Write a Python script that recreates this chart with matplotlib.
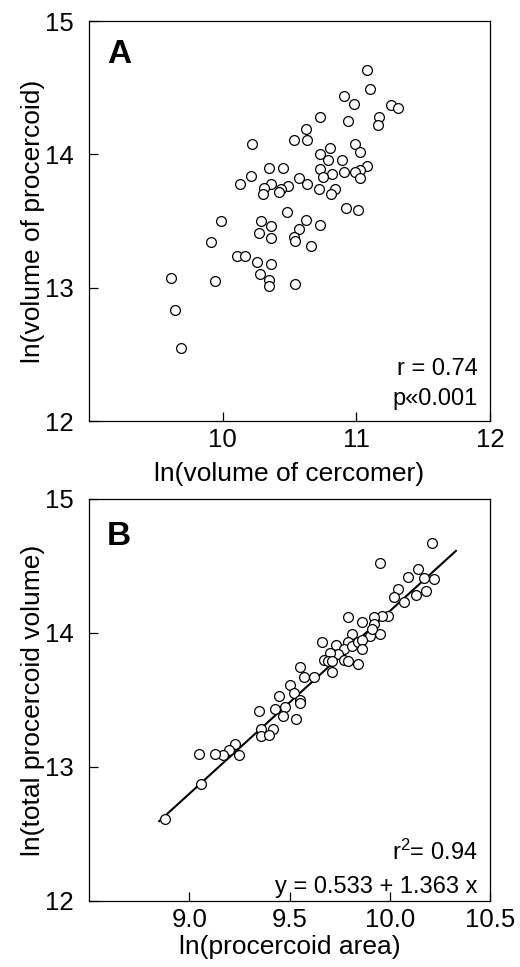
import matplotlib
matplotlib.use("Agg")
import matplotlib.pyplot as plt

plt.rcParams['font.family'] = ['Liberation Sans', 'DejaVu Sans']
plt.rcParams['mathtext.fontset'] = 'custom'
plt.rcParams['mathtext.rm'] = 'Liberation Sans'
plt.rcParams['mathtext.it'] = 'Liberation Sans:italic'

# Panel A data: ln(volume of cercomer) vs ln(volume of procercoid)
a_x = [11.08, 11.10, 10.91, 10.98, 11.26, 11.31, 11.17, 11.16, 10.73, 10.94,
       10.62, 10.53, 10.63, 10.22, 10.99, 11.03, 10.80, 10.73, 10.79, 10.89,
       11.08, 11.03, 10.99, 11.03, 10.91, 10.82, 10.73, 10.75, 10.35, 10.45,
       10.21, 10.13, 10.36, 10.31, 10.30, 10.57, 10.63, 10.49, 10.44, 10.42,
       10.72, 10.84, 10.81, 10.92, 11.01, 10.48, 9.99, 10.29, 10.36, 10.62,
       10.73, 10.57, 10.27, 10.36, 10.53, 10.54, 10.66, 9.91, 10.11, 10.17,
       10.26, 10.36, 10.28, 10.35, 10.35, 10.54, 9.94, 9.61, 9.64, 9.69]
a_y = [14.63, 14.49, 14.44, 14.38, 14.37, 14.35, 14.28, 14.22, 14.28, 14.25,
       14.19, 14.11, 14.11, 14.08, 14.08, 14.02, 14.05, 14.00, 13.96, 13.96,
       13.91, 13.88, 13.87, 13.82, 13.87, 13.85, 13.89, 13.83, 13.90, 13.90,
       13.84, 13.78, 13.78, 13.75, 13.70, 13.82, 13.78, 13.76, 13.74, 13.72,
       13.74, 13.74, 13.70, 13.60, 13.58, 13.57, 13.50, 13.50, 13.46, 13.51,
       13.47, 13.44, 13.41, 13.37, 13.38, 13.35, 13.31, 13.34, 13.24, 13.24,
       13.19, 13.18, 13.10, 13.06, 13.01, 13.03, 13.05, 13.07, 12.83, 12.55]

# Panel B data: ln(procercoid area) vs ln(total procercoid volume)
b_x = [10.21, 9.95, 10.14, 10.09, 10.17, 10.22, 10.04, 10.18, 10.13, 10.02,
       10.07, 9.99, 9.96, 9.92, 9.79, 9.86, 9.92, 9.81, 9.90, 9.95,
       9.91, 9.66, 9.73, 9.79, 9.77, 9.81, 9.84, 9.86, 9.86, 9.74,
       9.70, 9.77, 9.79, 9.67, 9.69, 9.71, 9.84, 9.71, 9.55, 9.57,
       9.62, 9.50, 9.52, 9.45, 9.55, 9.55, 9.48, 9.43, 9.35, 9.47,
       9.53, 9.36, 9.42, 9.36, 9.40, 9.23, 9.20, 9.17, 9.25, 9.13,
       9.05, 9.06, 8.88]
b_y = [14.67, 14.52, 14.48, 14.42, 14.41, 14.40, 14.33, 14.31, 14.28, 14.27,
       14.23, 14.13, 14.13, 14.12, 14.12, 14.08, 14.07, 13.99, 13.98, 13.99,
       14.03, 13.93, 13.91, 13.93, 13.88, 13.90, 13.93, 13.95, 13.88, 13.84,
       13.85, 13.80, 13.79, 13.80, 13.79, 13.79, 13.77, 13.71, 13.75, 13.67,
       13.67, 13.61, 13.55, 13.53, 13.50, 13.48, 13.45, 13.43, 13.42, 13.38,
       13.36, 13.28, 13.28, 13.23, 13.24, 13.17, 13.13, 13.09, 13.09, 13.10,
       13.10, 12.87, 12.61]

# Regression in panel B
fit_intercept = 0.533
fit_slope = 1.363
fit_x_range = [8.85, 10.33]

a_xticks = [10, 11, 12]
a_yticks = [12, 13, 14, 15]
b_xticks = [9.0, 9.5, 10.0, 10.5]
b_yticks = [12, 13, 14, 15]

W, H = 520, 967
fig = plt.figure(figsize=(W / 100, H / 100), dpi=100)

def px_axes(left, top, right, bottom):
    return fig.add_axes([left / W, 1 - bottom / H, (right - left) / W, (bottom - top) / H])

axA = px_axes(89, 21, 490, 421)
axB = px_axes(89, 499, 490, 901)

tick_fs = 18.5
label_fs = 19
ann_fs = 17
letter_fs = 24

for ax in (axA, axB):
    for s in ax.spines.values():
        s.set_linewidth(0.9)
        s.set_color('black')
    ax.tick_params(direction='in', length=6.5, width=0.9, labelsize=tick_fs, colors='black')
    ax.tick_params(axis='x', pad=5)
    ax.tick_params(axis='y', pad=11)

# Panel A
axA.scatter(a_x, a_y, s=50, facecolors='white', edgecolors='black', linewidths=0.9, zorder=3)
axA.set_xlim(9, 12)
axA.set_ylim(12, 15)
axA.set_xticks(a_xticks)
axA.set_xticklabels([str(t) for t in a_xticks])
axA.set_yticks(a_yticks)
axA.set_yticklabels([str(t) for t in a_yticks])
axA.set_xlabel('ln(volume of cercomer)', fontsize=label_fs)
axA.set_ylabel('ln(volume of procercoid)', fontsize=label_fs)
axA.xaxis.set_label_coords(0.5, -0.103)
axA.yaxis.set_label_coords(-0.11, 0.5)
axA.text(0.045, 0.895, 'A', transform=axA.transAxes, fontsize=letter_fs,
         fontweight='bold', va='baseline', ha='left')
axA.text(0.97, 0.115, 'r = 0.74', transform=axA.transAxes, fontsize=ann_fs,
         ha='right', va='baseline')
axA.text(0.97, 0.04, 'p\u00ab0.001', transform=axA.transAxes, fontsize=ann_fs,
         ha='right', va='baseline')

# Panel B
fit_y = [fit_intercept + fit_slope * v for v in fit_x_range]
axB.plot(fit_x_range, fit_y, color='black', lw=1.5, zorder=2)
axB.scatter(b_x, b_y, s=50, facecolors='white', edgecolors='black', linewidths=0.9, zorder=3)
axB.set_xlim(8.5, 10.5)
axB.set_ylim(12, 15)
axB.set_xticks(b_xticks)
axB.set_xticklabels(['%.1f' % t for t in b_xticks])
axB.set_yticks(b_yticks)
axB.set_yticklabels([str(t) for t in b_yticks])
axB.set_xlabel('ln(procercoid area)', fontsize=label_fs)
axB.set_ylabel('ln(total procercoid volume)', fontsize=label_fs)
axB.xaxis.set_label_coords(0.5, -0.084)
axB.yaxis.set_label_coords(-0.11, 0.5)
axB.text(0.045, 0.886, 'B', transform=axB.transAxes, fontsize=letter_fs,
         fontweight='bold', va='baseline', ha='left')
axB.text(0.97, 0.102, r'r$^{2}$= 0.94', transform=axB.transAxes, fontsize=ann_fs,
         ha='right', va='baseline')
axB.text(0.97, 0.02, 'y = 0.533 + 1.363 x', transform=axB.transAxes, fontsize=ann_fs,
         ha='right', va='baseline')

fig.savefig('out.png', dpi=100)
